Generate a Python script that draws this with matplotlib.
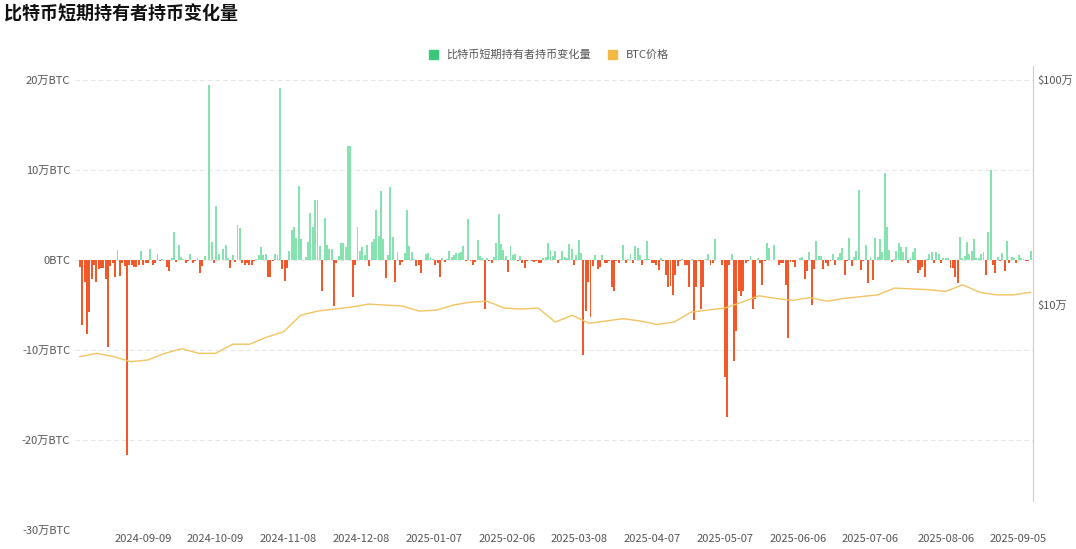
import matplotlib.pyplot as plt
import matplotlib.dates as mdates
import pandas as pd
import numpy as np
from matplotlib.patches import Patch

plt.rcParams['font.family'] = ['Noto Sans CJK SC', 'DejaVu Sans']

# 每日短期持有者持币变化量 (万BTC)
changes = [
    -0.8, -7.2, -2.5, -8.2, -5.8, -2.1, -0.6, -2.5, -1.0, -0.9, -0.9, -2.1, -9.7, -0.7, -0.4, -1.9, 1.1, -1.8, -0.3, -0.7,
    -21.7, -0.6, -0.6, -0.8, -0.8, -0.6, 1.0, -0.6, -0.4, -0.3, 1.2, -0.6, -0.4, 0.7, -0.1, 0.1, 0.0, -0.8, -1.2, 0.2,
    3.1, -0.2, 1.6, 0.3, 0.1, -0.3, -0.1, 0.6, -0.4, -0.1, 0.2, -1.4, -0.7, 0.4, 0.0, 19.4, 2.0, -0.3, 6.0, 0.7,
    0.0, 1.2, 1.6, 0.2, -0.9, 0.5, -0.2, 3.9, 3.5, -0.3, -0.6, -0.4, -0.6, -0.6, -0.1, 0.1, 0.5, 1.4, 0.5, 0.6,
    -1.9, -1.9, -0.1, 0.6, 0.5, 19.1, -1.0, -2.3, -0.9, 1.0, 3.3, 3.7, 2.4, 8.2, 2.3, 0.0, 0.3, 2.0, 5.2, 3.6, 6.7,
    6.7, 1.5, -3.4, 4.6, 1.7, 1.2, 1.2, -5.1, -0.3, 0.4, 1.9, 1.9, 1.4, 12.6, 12.6, -4.1, -0.6, 3.6, 1.0, 1.4,
    0.5, 1.7, -0.7, 2.0, 2.3, 5.5, 2.7, 7.7, 2.3, -2.0, 0.5, 8.1, 2.5, -2.5, 0.9, -0.6, -0.2, 0.8, 5.5, 1.5,
    0.9, 0.1, -0.7, -0.6, -1.4, 0.0, 0.7, 0.8, 0.3, 0.1, -0.6, -0.3, -1.9, 0.2, -0.2, 0.1, 1.0, 0.3, 0.5, 0.8,
    0.8, 0.9, 1.5, -0.1, 4.5, -0.1, -0.6, -0.2, 2.2, 0.4, 0.2, -5.4, 0.2, -0.1, -0.4, 0.3, 1.9, 5.1, 1.8, 1.1,
    0.4, -1.3, 1.5, 0.5, 0.7, -0.1, 0.4, -0.3, -0.9, -0.1, 0.0, -0.1, -0.2, -0.1, -0.3, -0.3, 0.2, 0.3, 1.9, 1.1,
    0.4, 1.0, -0.3,
    0.1, 1.0, 0.3, 0.2, 1.8, 1.2, -0.6, 0.5, 2.2, 0.8, -10.6, -5.7, -2.5, -6.3, -0.7, 0.5, -1.0, -0.8, 0.5, -0.4,
    -0.3, -0.1, -3.0, -3.4, -0.1, -0.3, 0.0, 1.6, -0.3, 0.1, 0.7, -0.4, 1.5, 1.3, 0.5, -0.6, 0.1, 2.1, 0.1, -0.3,
    -0.4, -0.6, -1.1, 0.2, -0.1, -1.7, -3.0, -2.9, -3.9, -1.7, -0.7, -0.1, 0.1, -0.6, -0.6, -3.0, 0.1, -6.7, -3.0, -0.1,
    -5.5, -3.0, 0.1, 0.7, -0.6, -0.4, 2.3, 0.0, 0.0, -0.6, -13.0, -17.4, -0.6, 0.7, -11.2, -7.9, -3.5, -4.0, -3.4, -0.3,
    -0.1, 0.4, -5.4, -4.3, 0.2, -0.4, -2.8, -0.1, 1.9, 1.3, 0.0, 1.6, 0.0, -0.6, -0.4, -0.3, -2.8, -8.7, -0.2, -0.2,
    -0.8, 0.0, 0.2,
    0.3, -2.1, -1.2, 0.9, -5.0, -1.0, 2.1, 0.4, 0.4, -1.0, -0.4, -0.7, -0.1, 0.6, -0.6, 0.3, 0.8, 1.3, -1.7, -0.1,
    2.4, -0.7, 0.3, 1.0, 7.8, -1.1, -0.1, 1.7, -2.6, 0.3, -2.2, 2.4, 0.3, 2.3, 0.9, 9.7, 3.6, 1.1, -0.2, 0.1,
    1.0, 1.9, 1.4, 0.9, 1.4, -0.4, 0.2, 0.9, 1.3, -1.4, -1.1, -0.8, -1.9, 0.1, 0.7, 0.9, -0.4, 0.9, 0.7, -0.4,
    0.2, 0.2, 0.2, -0.9, -0.9, -1.9, -2.6, 2.5, 0.2, 0.4, 2.0, 0.7, 1.0, 2.3, 0.2, 0.2, 0.7, 0.9, -1.7, 3.1,
    10.0, -0.6, -1.4, 0.3, -0.1, 0.8, -1.2, 2.1, -0.4, 0.3, 0.2, -0.4, 0.5, 0.2, 0.1, -0.1, -0.1, 1.0,
]

# BTC价格 (周度, 美元)
price_dates = pd.date_range('2024-08-14', '2025-09-10', freq='7D')
prices = [59e3, 61e3, 59e3, 56e3, 57e3, 61e3, 64e3, 61e3, 61e3, 67e3, 67e3, 72e3, 76e3, 90e3, 94e3,
          96e3, 98e3, 101e3, 100e3, 99e3, 94e3, 95e3, 100e3, 103e3, 104e3, 97e3, 96e3, 97e3, 84e3,
          90e3, 83e3, 85e3, 87e3, 85e3, 82e3, 84e3, 93e3, 95e3, 97e3, 103e3, 110e3, 107e3, 105e3,
          108e3, 104e3, 107e3, 109e3, 111e3, 119e3, 118e3, 117e3, 115e3, 123e3, 114e3, 111e3, 111e3, 114e3]

tick_labels = ['2024-09-09', '2024-10-09', '2024-11-08', '2024-12-08', '2025-01-07', '2025-02-06',
               '2025-03-08', '2025-04-07', '2025-05-07', '2025-06-06', '2025-07-06', '2025-08-06', '2025-09-05']

dates = pd.date_range('2024-08-14', '2025-09-10', periods=len(changes))
vals = np.array(changes)
colors = np.where(vals >= 0, '#86E3AF', '#F2592A')

fig = plt.figure(figsize=(10.76, 5.49), dpi=100)
ax = fig.add_axes([0.0697, 0.0346, 0.8903, 0.8364])
ax.bar(dates, vals, width=0.8, color=colors, zorder=2)
ax.set_ylim(-30, 21)
ax.set_yticks([-30, -20, -10, 0, 10, 20])
ax.set_yticklabels([f'{v}万BTC' if v != 0 else '0BTC' for v in [-30, -20, -10, 0, 10, 20]])
ax.grid(axis='y', color='#E6E6E6', linestyle=(0, (4, 3)), linewidth=0.8, zorder=0)
ax.set_xlim(pd.Timestamp('2024-08-12'), pd.Timestamp('2025-09-11'))
ax.set_xticks(pd.to_datetime(tick_labels))
ax.set_xticklabels(tick_labels)

ax2 = ax.twinx()
ax2.plot(price_dates, prices, color='#F2C462', linewidth=1.0, zorder=3)
ax2.set_yscale('log')
ax2.set_ylim(1e4, 1.1e6)
ax2.set_yticks([1e5, 1e6])
ax2.set_yticklabels(['$10万', '$100万'])
ax2.minorticks_off()

for a in (ax, ax2):
    for s in ('top', 'left', 'bottom'):
        a.spines[s].set_visible(False)
    a.tick_params(length=0, labelsize=8, colors='#555555')
ax.spines['right'].set_visible(False)
ax2.spines['right'].set_color('#CCCCCC')
ax2.spines['right'].set_bounds(1.35e4, 1.15e6)
ax.tick_params(axis='x', pad=3)

fig.text(0.004, 0.965, '比特币短期持有者持币变化量', fontsize=13, fontweight='bold', color='#111111')
fig.legend(handles=[Patch(color='#3CC87A', label='比特币短期持有者持币变化量'),
                    Patch(color='#F2B945', label='BTC价格')],
           loc='center', bbox_to_anchor=(0.51, 0.9), ncol=2, frameon=False, fontsize=8,
           handlelength=0.8, handleheight=0.8, columnspacing=1.5, labelcolor='#555555')

fig.savefig('out.png', dpi=100)
